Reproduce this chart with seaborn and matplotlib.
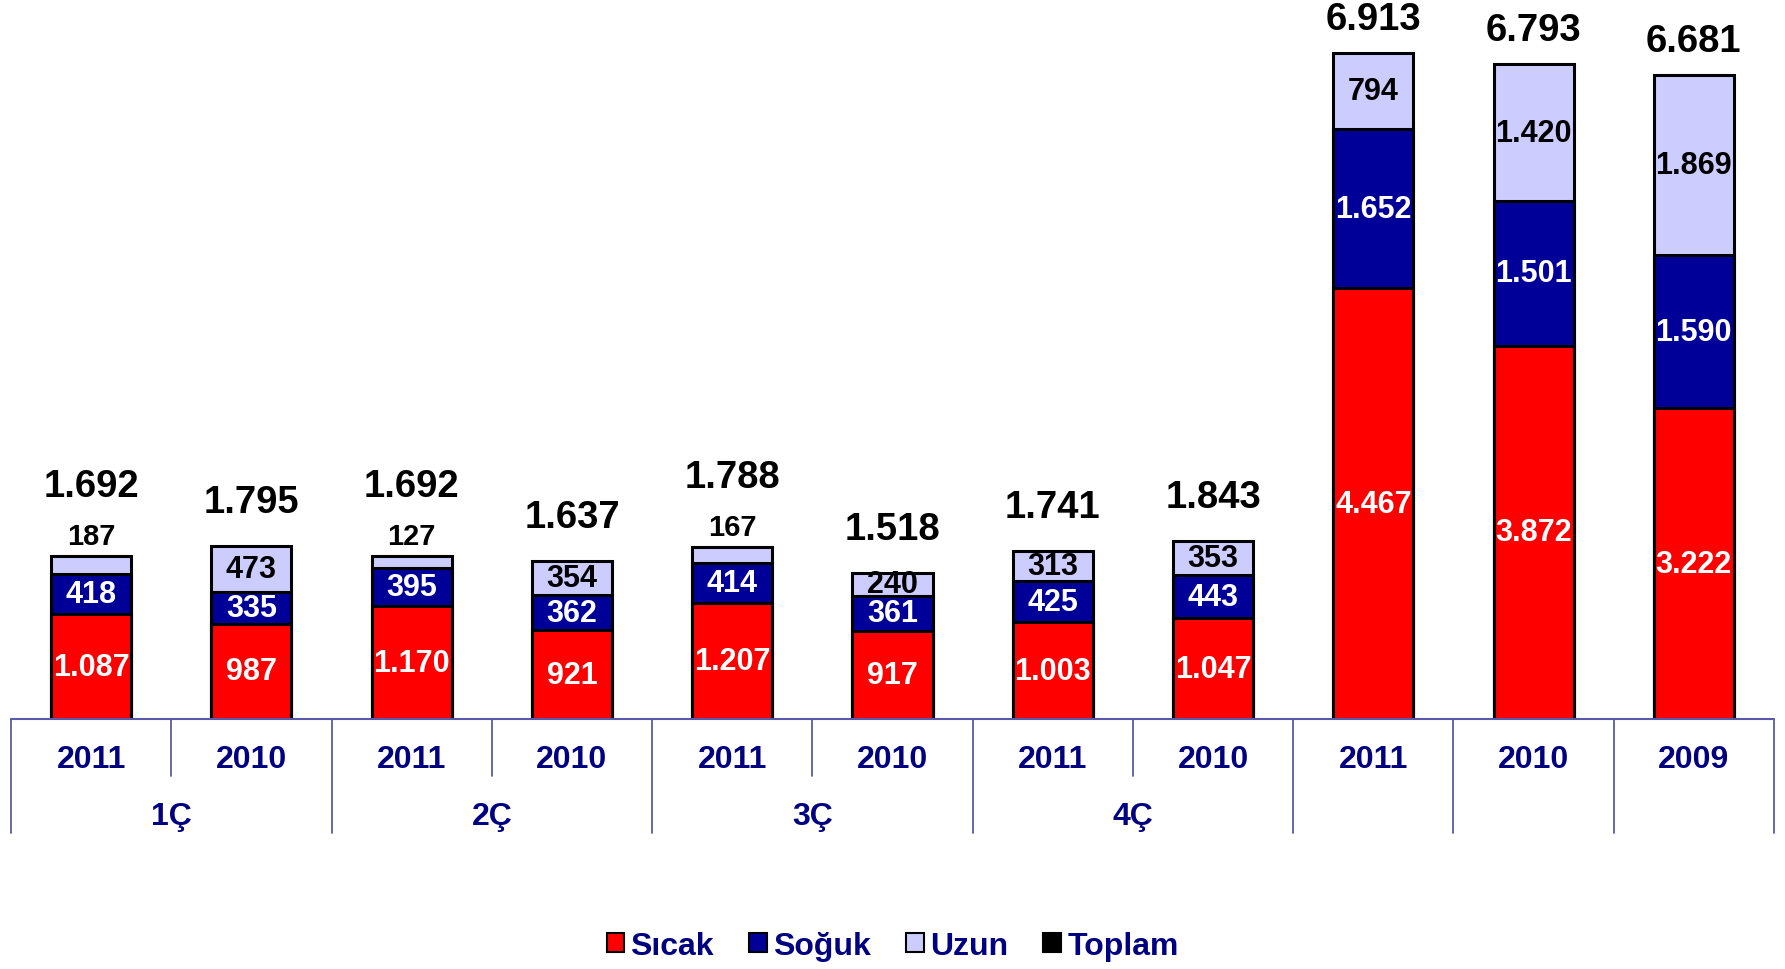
import numpy as np
import pandas as pd
import matplotlib
matplotlib.use("Agg")
import matplotlib.pyplot as plt
import matplotlib.transforms as mtransforms
from matplotlib.patches import Patch
import seaborn as sns

# chart data
years = ["2011", "2010", "2011", "2010", "2011", "2010", "2011", "2010", "2011", "2010", "2009"]
quarters = ["1Ç", "2Ç", "3Ç", "4Ç"]
sicak = [1087, 987, 1170, 921, 1207, 917, 1003, 1047, 4467, 3872, 3222]
soguk = [418, 335, 395, 362, 414, 361, 425, 443, 1652, 1501, 1590]
uzun = [187, 473, 127, 354, 167, 240, 313, 353, 794, 1420, 1869]
toplam = [1692, 1795, 1692, 1637, 1788, 1518, 1741, 1843, 6913, 6793, 6681]

RED = "#FF0000"
NAVY = "#000099"
LAV = "#CCCCFF"
TXT = "#000080"
LINE = "#5A5AA8"

sns.set_style("white")
plt.rcParams["font.family"] = ["Liberation Sans", "DejaVu Sans"]
plt.rcParams["font.weight"] = "bold"

slots = [f"s{i}" for i in range(len(years))]
df = pd.DataFrame({"slot": slots, "sicak": sicak, "soguk": soguk, "uzun": uzun})
df["lvl2"] = df["sicak"] + df["soguk"]
df["lvl3"] = df["lvl2"] + df["uzun"]

fig = plt.figure(figsize=(17.85, 9.70), dpi=100)
ax = fig.add_axes([11 / 1785, 1 - 720 / 970, 1763 / 1785, 720 / 970])

# stacked bars drawn as overlapping cumulative bars
for col, color in [("lvl3", LAV), ("lvl2", NAVY), ("sicak", RED)]:
    sns.barplot(data=df, x="slot", y=col, order=slots, color=color, width=0.5,
                edgecolor="black", linewidth=2.2, saturation=1, ax=ax)

ax.set_ylim(0, 7468)
ax.set_xlim(-0.5, len(slots) - 0.5)
ax.set_xlabel("")
ax.set_ylabel("")
ax.set_xticks([])
ax.set_yticks([])
for s in ax.spines.values():
    s.set_visible(False)


def fmt(v):
    return f"{v:,}".replace(",", ".")


px = 7468 / 720  # data units per pixel
for i in range(len(slots)):
    b1 = sicak[i]
    b2 = b1 + soguk[i]
    b3 = b2 + uzun[i]
    ax.text(i, b1 / 2, fmt(sicak[i]), ha="center", va="center", color="white",
            fontsize=22, fontweight="bold")
    ax.text(i, b1 + soguk[i] / 2, fmt(soguk[i]), ha="center", va="center", color="white",
            fontsize=22, fontweight="bold")
    if uzun[i] < 200:
        ax.text(i, b3 + 20 * px, fmt(uzun[i]), ha="center", va="center", color="black",
                fontsize=21, fontweight="bold")
        pad = 70
    else:
        ax.text(i, b2 + uzun[i] / 2, fmt(uzun[i]), ha="center", va="center", color="black",
                fontsize=22, fontweight="bold")
        pad = 34 if toplam[i] > 5000 else 44
    ax.text(i, toplam[i] + pad * px, fmt(toplam[i]), ha="center", va="center", color="black",
            fontsize=27.5, fontweight="bold")

# category axis with separators
trans = mtransforms.blended_transform_factory(ax.transData, ax.transAxes)
ax.plot([-0.5, len(slots) - 0.5], [0, 0], color=LINE, lw=1.5, transform=trans, clip_on=False)
short_y = -57 / 720
long_y = -114 / 720
for k in range(len(slots) + 1):
    xb = k - 0.5
    is_short = k in (1, 3, 5, 7)
    ax.plot([xb, xb], [0, short_y if is_short else long_y], color=LINE, lw=1.3,
            transform=trans, clip_on=False)
for i, y in enumerate(years):
    ax.text(i, -40 / 720, y, ha="center", va="center", color=TXT, fontsize=23,
            fontweight="bold", transform=trans)
for q, name in enumerate(quarters):
    ax.text(2 * q + 0.5, -97 / 720, name, ha="center", va="center", color=TXT, fontsize=23,
            fontweight="bold", transform=trans)

handles = [
    Patch(facecolor=RED, edgecolor="black", linewidth=1.5, label="Sıcak"),
    Patch(facecolor=NAVY, edgecolor="black", linewidth=1.5, label="Soğuk"),
    Patch(facecolor=LAV, edgecolor="black", linewidth=1.5, label="Uzun"),
    Patch(facecolor="black", edgecolor="black", linewidth=1.5, label="Toplam"),
]
fig.legend(handles=handles, loc="center", bbox_to_anchor=(0.5, 0.024), ncol=4, frameon=False,
           handlelength=0.55, handleheight=0.55, handletextpad=0.2, columnspacing=1.1,
           prop={"size": 23, "weight": "bold"}, labelcolor=TXT)

fig.savefig("out.png", dpi=100)
